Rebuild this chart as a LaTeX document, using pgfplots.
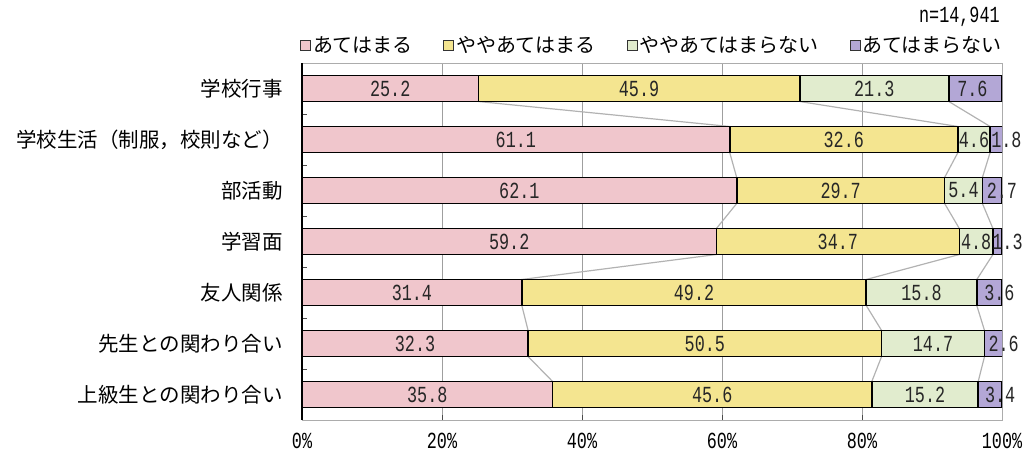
\documentclass[border=0pt]{standalone}
\usepackage{pgfplots}
\pgfplotsset{compat=1.18}
\usepackage{pgfplotstable}
\usepackage{fontspec}
\newfontfamily\cjk{Noto Sans CJK JP}
\newfontfamily\numf[FakeStretch=0.73]{Liberation Mono}

\definecolor{pinkc}{HTML}{F0C6CC}
\definecolor{yelc}{HTML}{F4E590}
\definecolor{grnc}{HTML}{E1ECCE}
\definecolor{purc}{HTML}{B3A7D6}

\pgfplotstableread{
y a b c d
0 25.2 45.9 21.3 7.6
1 61.1 32.6 4.6 1.8
2 62.1 29.7 5.4 2.7
3 59.2 34.7 4.8 1.3
4 31.4 49.2 15.8 3.6
5 32.3 50.5 14.7 2.6
6 35.8 45.6 15.2 3.4
}\data

\begin{document}
\begin{tikzpicture}
\useasboundingbox (0,0) rectangle (1035pt,455pt);
\pgfplotsset{
  base/.style={at={(302pt,35pt)}, anchor=south west, scale only axis,
    width=700pt, height=357pt, xmin=0, xmax=100, ymin=-0.5, ymax=6.5, y dir=reverse},
}
% background: frame, grid, ticks, connector lines
\begin{axis}[base,
  axis line style={gray!65, line width=0.8pt},
  xtick={0,20,...,100}, xticklabels={0\%,20\%,40\%,60\%,80\%,100\%},
  xticklabel style={font=\numf\fontsize{23}{26}\selectfont, anchor=base, inner sep=0pt, yshift=-28pt},
  xmajorgrids, grid style={gray!75, line width=0.8pt},
  ytick={0.5,1.5,...,5.5}, yticklabels={},
  xtick pos=lower, ytick pos=left,
  tick align=inside, major tick length=5pt, tick style={black!70, line width=0.8pt},
]
\addplot[gray!60, line width=1.2pt] coordinates {(25.2,0.255) (61.1,0.745) (61.1,1.255) (62.1,1.745) (62.1,2.255) (59.2,2.745) (59.2,3.255) (31.4,3.745) (31.4,4.255) (32.3,4.745) (32.3,5.255) (35.8,5.745)};
\addplot[gray!60, line width=1.2pt] coordinates {(71.1,0.255) (93.7,0.745) (93.7,1.255) (91.8,1.745) (91.8,2.255) (93.9,2.745) (93.9,3.255) (80.6,3.745) (80.6,4.255) (82.8,4.745) (82.8,5.255) (81.4,5.745)};
\addplot[gray!60, line width=1.2pt] coordinates {(92.4,0.255) (98.3,0.745) (98.3,1.255) (97.2,1.745) (97.2,2.255) (98.7,2.745) (98.7,3.255) (96.4,3.745) (96.4,4.255) (97.5,4.745) (97.5,5.255) (96.6,5.745)};
\end{axis}
% bars
\begin{axis}[base, xbar stacked, bar width=26pt,
  axis x line=none,
  axis y line=left, y axis line style={-, black, line width=1.4pt},
  ytick={0,...,6},
  yticklabels={学校行事,学校生活（制服，校則など）,部活動,学習面,友人関係,先生との関わり合い,上級生との関わり合い},
  ytick style={draw=none},
  yticklabel style={font=\cjk\fontsize{20.5}{24}\selectfont, anchor=east, inner sep=0pt, xshift=-17pt},
  legend columns=4,
  legend style={at={(0.5,1)}, anchor=south, yshift=7pt, draw=none, fill=none, inner sep=0pt,
    font=\cjk\fontsize{20}{24}\selectfont,
    /tikz/every even column/.append style={column sep=29pt}},
  legend image code/.code={\draw[#1, draw=black!80, line width=0.9pt] (0pt,-5pt) rectangle (10pt,5pt);},
]
\addplot[fill=pinkc, draw=black, line width=1.6pt] table[x=a, y=y]{\data};
\addplot[fill=yelc, draw=black, line width=1.6pt] table[x=b, y=y]{\data};
\addplot[fill=grnc, draw=black, line width=1.6pt] table[x=c, y=y]{\data};
\addplot[fill=purc, draw=black, line width=1.6pt] table[x=d, y=y]{\data};
\legend{あてはまる,ややあてはまる,ややあてはまらない,あてはまらない}
\end{axis}
% value labels
\begin{axis}[base, hide axis, clip=false,
  /pgf/number format/assume math mode=true,
  nodes near coords={\pgfmathprintnumber[fixed, fixed zerofill, precision=1]{\pgfplotspointmeta}},
  every node near coord/.append style={anchor=center, inner sep=0pt, text=black!85, font=\numf\fontsize{23}{26}\selectfont},
]
\addplot[draw=none, point meta=explicit, nodes near coords] table[x expr=\thisrow{a}/2, y=y, meta=a]{\data};
\addplot[draw=none, point meta=explicit, nodes near coords] table[x expr=\thisrow{a}+\thisrow{b}/2, y=y, meta=b]{\data};
\addplot[draw=none, point meta=explicit, nodes near coords] table[x expr=\thisrow{a}+\thisrow{b}+\thisrow{c}/2, y=y, meta=c]{\data};
\addplot[draw=none, point meta=explicit, nodes near coords, skip coords between index={1}{7},
  every node near coord/.append style={xshift=-3pt}] table[x expr=\thisrow{a}+\thisrow{b}+\thisrow{c}+\thisrow{d}/2, y=y, meta=d]{\data};
\addplot[draw=none, point meta=explicit, nodes near coords, skip coords between index={0}{1},
  every node near coord/.append style={xshift=10pt}] table[x expr=\thisrow{a}+\thisrow{b}+\thisrow{c}+\thisrow{d}/2, y=y, meta=d]{\data};
\node[anchor=base east, inner sep=0pt, font=\numf\fontsize{23}{26}\selectfont] at (axis description cs:0.997,1) [yshift=41pt] {n=14,941};
\end{axis}
\end{tikzpicture}
\end{document}
